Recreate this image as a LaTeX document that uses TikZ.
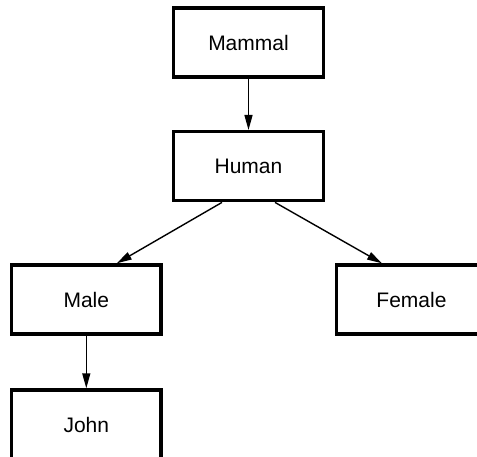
\documentclass[tikz,border=0pt]{standalone}
\usepackage{fontspec}
\setmainfont{Liberation Sans}
\usetikzlibrary{arrows.meta}
\begin{document}
\begin{tikzpicture}[x=1pt,y=-1pt,
  classbox/.style={draw=black,line width=3.4pt,fill=white,minimum width=149.5pt,minimum height=69pt,inner sep=0pt,font=\fontsize{21}{24}\selectfont},
  link/.style={line width=1.4pt,-{Triangle[length=15pt,width=8pt]}}]
\clip (0,0) rectangle (477,457);
\node[classbox] (mammal) at (248.5,42.5) {Mammal};
\node[classbox] (human) at (248.5,166.2) {Human};
\node[classbox] (male) at (86.3,299.5) {Male};
\node[classbox] (female) at (411.5,299.5) {Female};
\node[classbox] (john) at (86.3,424.5) {John};
\draw[link] (mammal.south) -- (human.north);
\draw[link] ([xshift=-26.5pt]human.south) -- ([xshift=30.5pt]male.north);
\draw[link] ([xshift=26.5pt]human.south) -- ([xshift=-29.5pt]female.north);
\draw[link] (male.south) -- (john.north);
\end{tikzpicture}
\end{document}
